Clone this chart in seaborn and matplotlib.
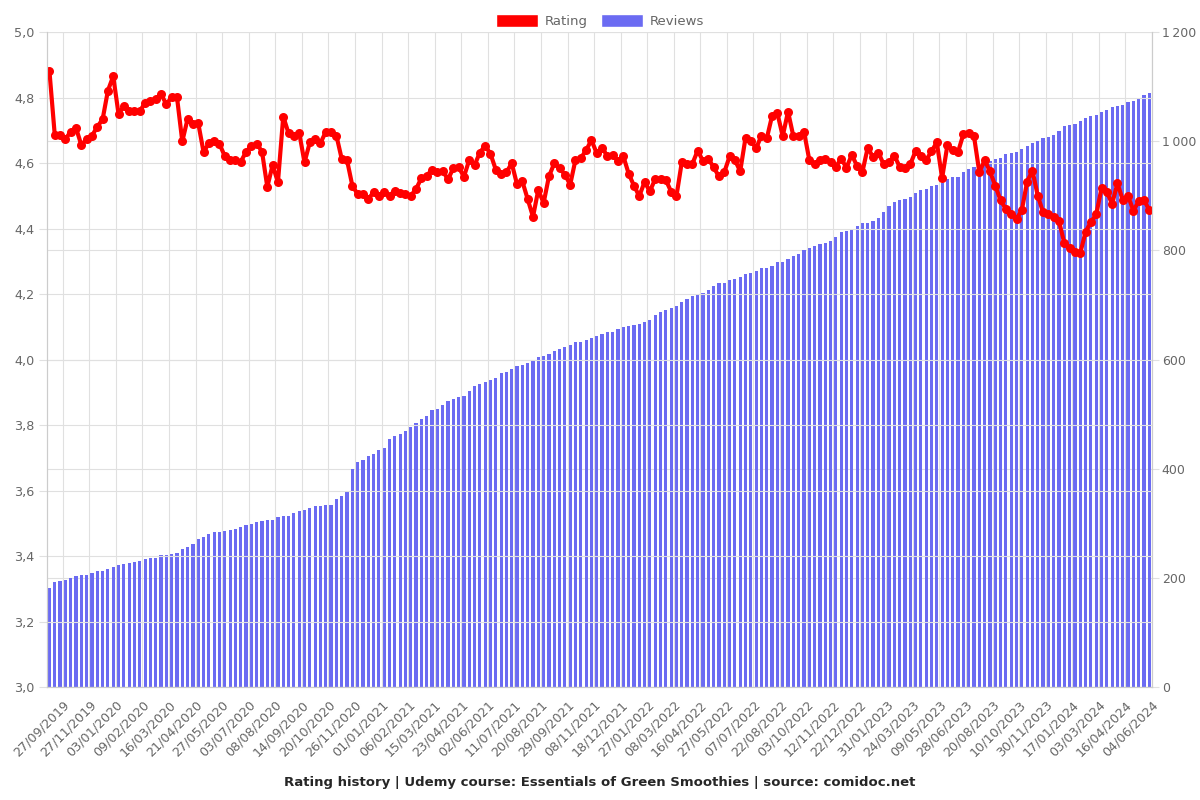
import matplotlib
matplotlib.use('Agg')
import matplotlib.pyplot as plt
from matplotlib.patches import Patch
from matplotlib.ticker import FuncFormatter, MultipleLocator
import numpy as np
import pandas as pd
import seaborn as sns

'''
    Rating history (line, left axis) + cumulative reviews (bars, right axis)
'''

rating = [
    4.880, 4.685, 4.685, 4.673, 4.696, 4.707, 4.655, 4.673, 4.683, 4.711,
    4.733, 4.821, 4.865, 4.750, 4.773, 4.760, 4.758, 4.758, 4.784, 4.790,
    4.797, 4.810, 4.780, 4.801, 4.801, 4.666, 4.735, 4.718, 4.722, 4.634,
    4.660, 4.666, 4.658, 4.621, 4.608,
    4.609, 4.604, 4.634, 4.653, 4.659, 4.635, 4.527, 4.594, 4.541, 4.742,
    4.691, 4.682, 4.693, 4.602, 4.663, 4.674, 4.661, 4.695, 4.695, 4.684,
    4.613, 4.609, 4.531, 4.505, 4.505, 4.490, 4.511, 4.500, 4.511, 4.500,
    4.516, 4.509, 4.505, 4.500, 4.521,
    4.554, 4.561, 4.580, 4.573, 4.576, 4.550, 4.584, 4.588, 4.558, 4.609,
    4.593, 4.632, 4.653, 4.628, 4.580, 4.568, 4.572, 4.599, 4.535, 4.544,
    4.490, 4.436, 4.518, 4.478, 4.559, 4.599, 4.584, 4.565, 4.534, 4.610,
    4.615, 4.639, 4.670, 4.630,
    4.647, 4.621, 4.626, 4.606, 4.621, 4.568, 4.531, 4.499, 4.542, 4.514,
    4.551, 4.550, 4.548, 4.513, 4.499, 4.602, 4.596, 4.598, 4.638, 4.606,
    4.613, 4.587, 4.559, 4.572, 4.620, 4.609, 4.575, 4.677, 4.668, 4.645,
    4.684, 4.675, 4.744, 4.752,
    4.682, 4.757, 4.682, 4.684, 4.696, 4.610, 4.596, 4.609, 4.613, 4.604,
    4.589, 4.613, 4.586, 4.625, 4.591, 4.573, 4.647, 4.618, 4.632, 4.596,
    4.602, 4.623, 4.589, 4.586, 4.596, 4.636, 4.620, 4.609, 4.636, 4.663,
    4.554, 4.655, 4.639, 4.634, 4.688,
    4.692, 4.682, 4.572, 4.608, 4.575, 4.531, 4.486, 4.460, 4.443, 4.430,
    4.456, 4.543, 4.577, 4.500, 4.450, 4.443, 4.434, 4.423, 4.355, 4.341,
    4.329, 4.325, 4.390, 4.420, 4.443, 4.523, 4.512, 4.475, 4.539, 4.486,
    4.500, 4.454, 4.484, 4.486, 4.457,
]

reviews = [
    182, 193, 195, 197, 200, 203, 205, 206, 210, 212,
    213, 216, 220, 223, 226, 228, 229, 231, 235, 236,
    237, 243, 243, 244, 246, 253, 256, 262, 272, 275,
    280, 284, 285, 286, 288,
    290, 294, 297, 298, 302, 305, 307, 307, 311, 314,
    314, 319, 322, 325, 328, 331, 331, 333, 333, 344,
    351, 359, 400, 412, 416, 423, 427, 434, 439, 455,
    460, 464, 469, 476, 483,
    492, 497, 508, 510, 516, 525, 527, 531, 534, 543,
    551, 555, 559, 563, 567, 576, 577, 583, 588, 590,
    593, 597, 604, 606, 611, 616, 619, 623, 626, 632,
    633, 635, 639, 643,
    646, 650, 650, 656, 660, 662, 664, 666, 669, 673,
    682, 687, 691, 694, 699, 705, 711, 716, 720, 722,
    727, 735, 740, 741, 746, 748, 751, 756, 759, 763,
    767, 767, 772, 778,
    779, 785, 790, 794, 801, 804, 808, 812, 814, 818,
    825, 833, 835, 837, 844, 850, 851, 854, 859, 871,
    881, 888, 892, 894, 898, 905, 911, 913, 918, 920,
    923, 930, 934, 934, 943,
    949, 952, 956, 960, 964, 968, 970, 976, 979, 981,
    985, 992, 997, 1001, 1005, 1008, 1012, 1019, 1027, 1030,
    1031, 1037, 1043, 1046, 1048, 1053, 1057, 1062, 1064, 1066,
    1071, 1073, 1078, 1084, 1089,
]

tick_labels = [
    '27/09/2019', '27/11/2019', '03/01/2020', '09/02/2020', '16/03/2020',
    '21/04/2020', '27/05/2020', '03/07/2020', '08/08/2020', '14/09/2020',
    '20/10/2020', '26/11/2020', '01/01/2021', '06/02/2021', '15/03/2021',
    '23/04/2021', '02/06/2021', '11/07/2021', '20/08/2021', '29/09/2021',
    '08/11/2021', '18/12/2021', '27/01/2022', '08/03/2022', '16/04/2022',
    '27/05/2022', '07/07/2022', '22/08/2022', '03/10/2022', '12/11/2022',
    '22/12/2022', '31/01/2023', '24/03/2023', '09/05/2023', '28/06/2023',
    '20/08/2023', '10/10/2023', '30/11/2023', '17/01/2024', '03/03/2024',
    '16/04/2024', '04/06/2024',
]

df = pd.DataFrame({'idx': np.arange(len(rating)), 'rating': rating, 'reviews': reviews})

sns.set_style('white')
grid_c = '#e0e0e0'
text_c = '#666666'

fig = plt.figure(figsize=(12, 8), dpi=100)
ax = fig.add_axes([0.039, 0.141, 0.921, 0.819])
ax2 = ax.twinx()

# bars on the right axis, drawn below the rating line
sns.barplot(data=df, x='idx', y='reviews', ax=ax2, color='#6b6bf2',
            saturation=1, width=0.6, linewidth=0)
sns.lineplot(data=df, x='idx', y='rating', ax=ax, color='#ff0000',
             linewidth=3, marker='o', markersize=6.5, markeredgewidth=0)
ax.set_zorder(ax2.get_zorder() + 1)
ax.patch.set_visible(False)

n = len(rating)
ax.set_xlim(-0.5, n - 0.5)
ax.set_ylim(3.0, 5.0)
ax2.set_ylim(0, 1200)

ticks = [2.5 + 5 * k for k in range(len(tick_labels))]
ax.set_xticks(ticks)
ax.set_xticklabels(tick_labels, rotation=45, ha='right', rotation_mode='anchor',
                   fontsize=9.2, color=text_c)
ax.yaxis.set_major_locator(MultipleLocator(0.2))
ax.yaxis.set_major_formatter(FuncFormatter(lambda v, p: f'{v:.1f}'.replace('.', ',')))
ax2.yaxis.set_major_locator(MultipleLocator(200))
ax2.yaxis.set_major_formatter(FuncFormatter(lambda v, p: f'{v:,.0f}'.replace(',', '\u2009')))
ax.tick_params(axis='y', labelsize=9.2, colors=text_c, length=6, color=grid_c, pad=3)
ax.tick_params(axis='x', length=6, color=grid_c, pad=2)
ax2.tick_params(axis='y', labelsize=9, colors=text_c, length=5, color=grid_c, pad=2)

ax.grid(True, color=grid_c, linewidth=0.8)
ax2.yaxis.grid(True, color=grid_c, linewidth=0.8)
ax2.set_axisbelow(True)
ax.set_xlabel('')
ax.set_ylabel('')
ax2.set_xlabel('')
ax2.set_ylabel('')
for a in (ax, ax2):
    for s in a.spines.values():
        s.set_color('#cccccc')
        s.set_linewidth(0.8)
    a.spines['top'].set_visible(False)

handles = [Patch(facecolor='#ff0000', label='Rating'),
           Patch(facecolor='#6b6bf2', label='Reviews')]
fig.legend(handles=handles, loc='upper center', bbox_to_anchor=(0.5, 0.997),
           ncol=2, frameon=False, fontsize=9.5, handlelength=3.2,
           handleheight=1.1, columnspacing=1.0, handletextpad=0.5,
           labelcolor=text_c)

fig.text(0.5, 0.022, 'Rating history | Udemy course: Essentials of Green Smoothies | source: comidoc.net',
         ha='center', va='center', fontsize=9.5, fontweight='bold')

fig.savefig('out.png', dpi=100)
